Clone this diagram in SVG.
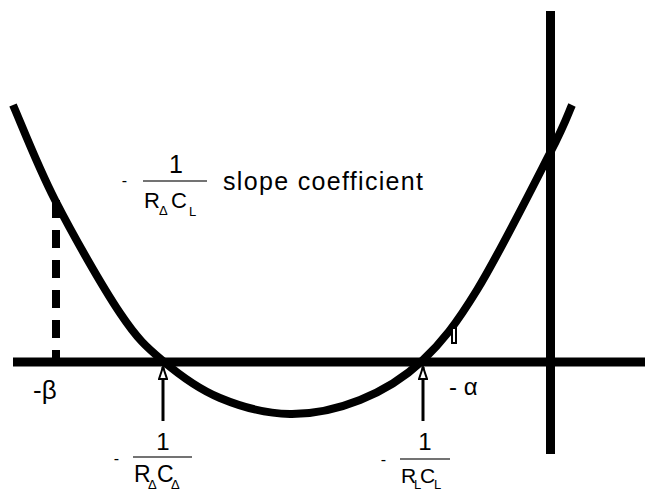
<svg xmlns="http://www.w3.org/2000/svg" width="645" height="491" viewBox="0 0 645 491">
<style>
.ax{stroke:#000;stroke-width:9;fill:none}
.cv{stroke:#000;stroke-width:8;fill:none;stroke-linecap:butt}
.dash{stroke:#000;stroke-width:8;stroke-dasharray:18 12;fill:none}
.arr{stroke:#000;stroke-width:3;fill:none}
.bar{stroke:#444;stroke-width:1.5}
text{font-family:"Liberation Sans",Arial,sans-serif;fill:#000}
.big{font-size:22px}
.sub{font-size:13px}
</style>
<defs>
<marker id="ah" viewBox="0 0 14 10" refX="13" refY="5" markerWidth="14" markerHeight="10" markerUnits="userSpaceOnUse" orient="auto">
<path d="M1,1 L13,5 L1,9 Z" fill="#fff" stroke="#000" stroke-width="2" stroke-linejoin="miter"/>
</marker>
</defs>
<rect width="645" height="491" fill="#fff"/>
<g id="axes">
<line class="ax" x1="13" y1="362" x2="645" y2="362"/>
<line class="ax" x1="550.5" y1="11" x2="550.5" y2="454"/>
</g>
<g id="beta-marker">
<line class="dash" x1="56" y1="200" x2="56" y2="362"/>
</g>
<g id="curve">
<path class="cv" d="M13,105 C20,120.8 37.2,165.3 55,200 C72.8,234.7 102,286.2 120,313 C138,339.8 146.3,346.8 163,361 C179.7,375.2 198.8,389.2 220,398 C241.2,406.8 266.7,413.7 290,414 C313.3,414.3 338,408.8 360,400 C382,391.2 402.5,379.3 422,361 C441.5,342.7 455.7,324.7 477,290 C498.3,255.3 534.2,183.8 550,153 C565.8,122.2 568.3,113 572,105"/>
</g>
<g id="alpha-tick">
<rect x="452" y="328" width="4" height="15" fill="#fff" stroke="#000" stroke-width="2"/>
</g>
<g id="connectors">
<line class="arr" x1="163" y1="421" x2="163" y2="367" marker-end="url(#ah)"/>
<line class="arr" x1="423" y1="421" x2="423" y2="367" marker-end="url(#ah)"/>
</g>
<g id="label-slope">
<text x="124.5" y="186" font-size="16" text-anchor="middle">-</text>
<text x="176" y="173" font-size="25" text-anchor="middle">1</text>
<line class="bar" x1="143" y1="181" x2="207" y2="181"/>
<text class="big" x="144" y="208">R</text>
<text class="sub" x="159" y="215">Δ</text>
<text class="big" x="171" y="208">C</text>
<text class="sub" x="189" y="216">L</text>
<text x="223" y="190" font-size="25" textLength="200" lengthAdjust="spacing">slope coefficient</text>
</g>
<g id="label-beta">
<text x="33" y="399" font-size="26">-β</text>
</g>
<g id="label-alpha">
<text x="449" y="395" font-size="24">- α</text>
</g>
<g id="label-rdcd">
<text x="116.5" y="464" font-size="16" text-anchor="middle">-</text>
<text x="163" y="450" font-size="24" text-anchor="middle">1</text>
<line class="bar" x1="133" y1="457" x2="192" y2="457"/>
<text class="big" x="134" y="482" font-size="23" style="font-size:23px">R</text>
<text class="sub" x="148" y="489">Δ</text>
<text class="big" x="157" y="482" style="font-size:23px">C</text>
<text class="sub" x="171" y="489">Δ</text>
</g>
<g id="label-rlcl">
<text x="383.5" y="465" font-size="16" text-anchor="middle">-</text>
<text x="425" y="450" font-size="24" text-anchor="middle">1</text>
<line class="bar" x1="400" y1="459" x2="450" y2="459"/>
<text class="big" x="401" y="483" style="font-size:21px">R</text>
<text class="sub" x="414" y="489">L</text>
<text class="big" x="420" y="483" style="font-size:21px">C</text>
<text class="sub" x="434" y="489">L</text>
</g>
</svg>
